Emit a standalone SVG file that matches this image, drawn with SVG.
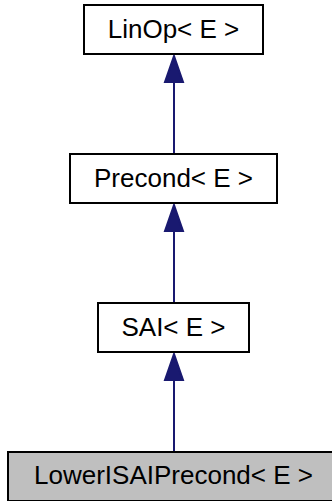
<svg xmlns="http://www.w3.org/2000/svg" width="332" height="501" viewBox="0 0 332 501">
<style>
.box{fill:#ffffff;stroke:#000000;stroke-width:2}
.cur{fill:#bfbfbf;stroke:#000000;stroke-width:2}
.lbl{font-family:"Liberation Sans",Arial,sans-serif;font-size:26px;fill:#000000;text-anchor:middle}
.edge{stroke:#191970;stroke-width:2;fill:none}
.head{fill:#191970;stroke:#191970;stroke-width:2}
</style>
<rect width="332" height="501" fill="#ffffff"/>
<g id="connectors">
<line class="edge" x1="174" y1="82" x2="174" y2="153"/>
<polygon class="head" points="174,56 165,82 183,82"/>
<line class="edge" x1="174" y1="231" x2="174" y2="302"/>
<polygon class="head" points="174,205 165,231 183,231"/>
<line class="edge" x1="174" y1="380" x2="174" y2="451"/>
<polygon class="head" points="174,354 165,380 183,380"/>
</g>
<g id="node-linop">
<rect class="box" x="84" y="5" width="179" height="49"/>
<text class="lbl" x="173.5" y="38">LinOp&lt; E &gt;</text>
</g>
<g id="node-precond">
<rect class="box" x="70" y="154" width="207" height="49"/>
<text class="lbl" x="173.5" y="187">Precond&lt; E &gt;</text>
</g>
<g id="node-sai">
<rect class="box" x="98" y="303" width="151" height="49"/>
<text class="lbl" x="173.5" y="336">SAI&lt; E &gt;</text>
</g>
<g id="node-lowerisaiprecond">
<rect class="cur" x="8" y="452" width="331" height="49"/>
<text class="lbl" x="173.5" y="484">LowerISAIPrecond&lt; E &gt;</text>
</g>
</svg>
